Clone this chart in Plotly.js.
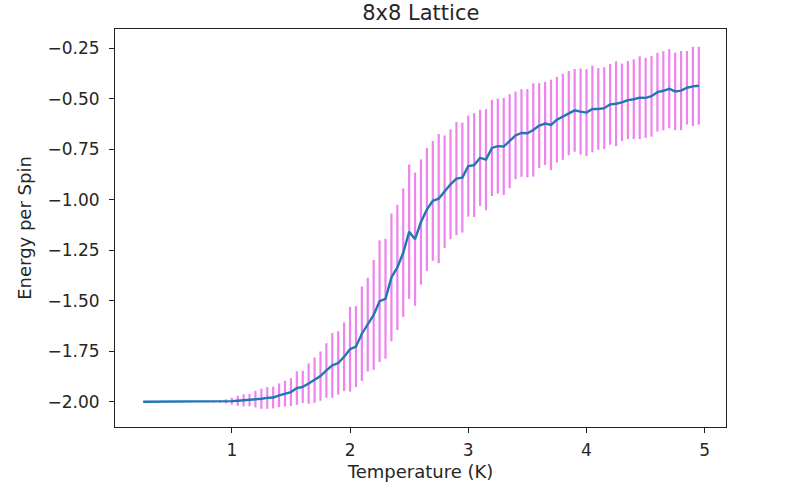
<!DOCTYPE html>
<html>
<head>
<meta charset="utf-8">
<script src="https://cdn.plot.ly/plotly-3.0.1.min.js"></script>
<style>html,body{margin:0;padding:0;background:#fff;}</style>
</head>
<body>
<div id="chart" style="width:800px;height:490px;"></div>
<script>
// Temperature (K)
var temperature = [0.25,0.30,0.35,0.40,0.45,0.50,0.55,0.60,0.65,0.70,0.75,0.80,0.85,0.90,0.95,
  1.00,1.05,1.10,1.15,1.20,1.25,1.30,1.35,1.40,1.45,1.50,1.55,1.60,1.65,1.70,1.75,1.80,1.85,1.90,1.95,
  2.00,2.05,2.10,2.15,2.20,2.25,2.30,2.35,2.40,2.45,2.50,2.55,2.60,2.65,2.70,2.75,2.80,2.85,2.90,2.95,
  3.00,3.05,3.10,3.15,3.20,3.25,3.30,3.35,3.40,3.45,3.50,3.55,3.60,3.65,3.70,3.75,3.80,3.85,3.90,3.95,
  4.00,4.05,4.10,4.15,4.20,4.25,4.30,4.35,4.40,4.45,4.50,4.55,4.60,4.65,4.70,4.75,4.80,4.85,4.90,4.95];
// Mean energy per spin
var energy = [-2.0,-2.0,-2.0,-2.0,-2.0,-2.0,-2.0,-2.0,-2.0,-2.0,-2.0,-2.0,-1.9995,-1.999,-1.998,
  -1.997,-1.995,-1.993,-1.992,-1.987,-1.985,-1.981,-1.979,-1.968,-1.96,-1.952,-1.932,-1.926,-1.91,-1.893,-1.873,-1.845,-1.82,-1.808,-1.777,
  -1.74,-1.727,-1.663,-1.618,-1.57,-1.502,-1.49,-1.384,-1.335,-1.262,-1.158,-1.195,-1.11,-1.048,-1.005,-0.994,-0.96,-0.923,-0.895,-0.89,
  -0.833,-0.828,-0.792,-0.801,-0.743,-0.734,-0.736,-0.71,-0.681,-0.669,-0.67,-0.654,-0.632,-0.622,-0.629,-0.603,-0.589,-0.571,-0.557,-0.563,
  -0.568,-0.55,-0.55,-0.546,-0.527,-0.524,-0.517,-0.506,-0.502,-0.494,-0.495,-0.487,-0.467,-0.46,-0.45,-0.463,-0.459,-0.445,-0.438,-0.435];
// Error (standard deviation)
var energyErr = [0,0,0,0,0,0,0,0,0,0,0,0.003,0.004,0.006,0.01,
  0.017,0.025,0.03,0.03,0.041,0.05,0.054,0.054,0.059,0.064,0.069,0.083,0.08,0.1,0.112,0.122,0.135,0.16,0.157,0.17,
  0.21,0.2,0.234,0.232,0.272,0.301,0.297,0.316,0.31,0.318,0.333,0.33,0.31,0.305,0.297,0.32,0.279,0.272,0.28,0.272,
  0.25,0.257,0.238,0.25,0.238,0.235,0.24,0.233,0.217,0.217,0.219,0.231,0.21,0.206,0.224,0.212,0.213,0.209,0.205,0.213,
  0.215,0.215,0.202,0.202,0.2,0.21,0.192,0.193,0.197,0.205,0.198,0.2,0.195,0.196,0.196,0.192,0.196,0.182,0.196,0.193];

var xTicks = [1,2,3,4,5];
var yTicks = [-2.0,-1.75,-1.5,-1.25,-1.0,-0.75,-0.5,-0.25];

var tickFont = {family: 'DejaVu Sans, sans-serif', size: 17, color: '#262626'};
var labelFont = {family: 'DejaVu Sans, sans-serif', size: 18, color: '#262626'};

var traces = [
  {
    x: temperature, y: energy, type: 'scatter', mode: 'lines',
    line: {color: 'rgba(0,0,0,0)', width: 0},
    error_y: {type: 'data', array: energyErr, visible: true, color: '#ee82ee', thickness: 2.2, width: 0},
    hoverinfo: 'skip', showlegend: false
  },
  {
    x: temperature, y: energy, type: 'scatter', mode: 'lines',
    line: {color: '#1f77b4', width: 2.4},
    showlegend: false
  }
];

var axisCommon = {
  showgrid: false, zeroline: false, showline: true, mirror: true,
  linecolor: '#222', linewidth: 1, ticks: 'outside', ticklen: 5, tickcolor: '#222', tickwidth: 1,
  tickfont: tickFont
};

var layout = {
  width: 800, height: 490,
  margin: {l: 115, r: 74, t: 29, b: 63},
  paper_bgcolor: '#fff', plot_bgcolor: '#fff',
  font: tickFont,
  title: {text: '8x8 Lattice', font: {family: 'DejaVu Sans, sans-serif', size: 21, color: '#262626'}, x: 0.526, xanchor: 'center', y: 0.974, yanchor: 'middle'},
  xaxis: Object.assign({}, axisCommon, {
    range: [0.012, 5.18], tickvals: xTicks, ticktext: xTicks.map(String), ticklabelstandoff: 3,
    title: {text: 'Temperature (K)', font: labelFont, standoff: 5}
  }),
  yaxis: Object.assign({}, axisCommon, {
    range: [-2.125, -0.154], tickvals: yTicks, tickformat: '.2f', ticklabelstandoff: 6,
    title: {text: 'Energy per Spin', font: labelFont, standoff: 11}
  })
};

Plotly.newPlot('chart', traces, layout, {displayModeBar: false, staticPlot: true});
</script>
</body>
</html>
